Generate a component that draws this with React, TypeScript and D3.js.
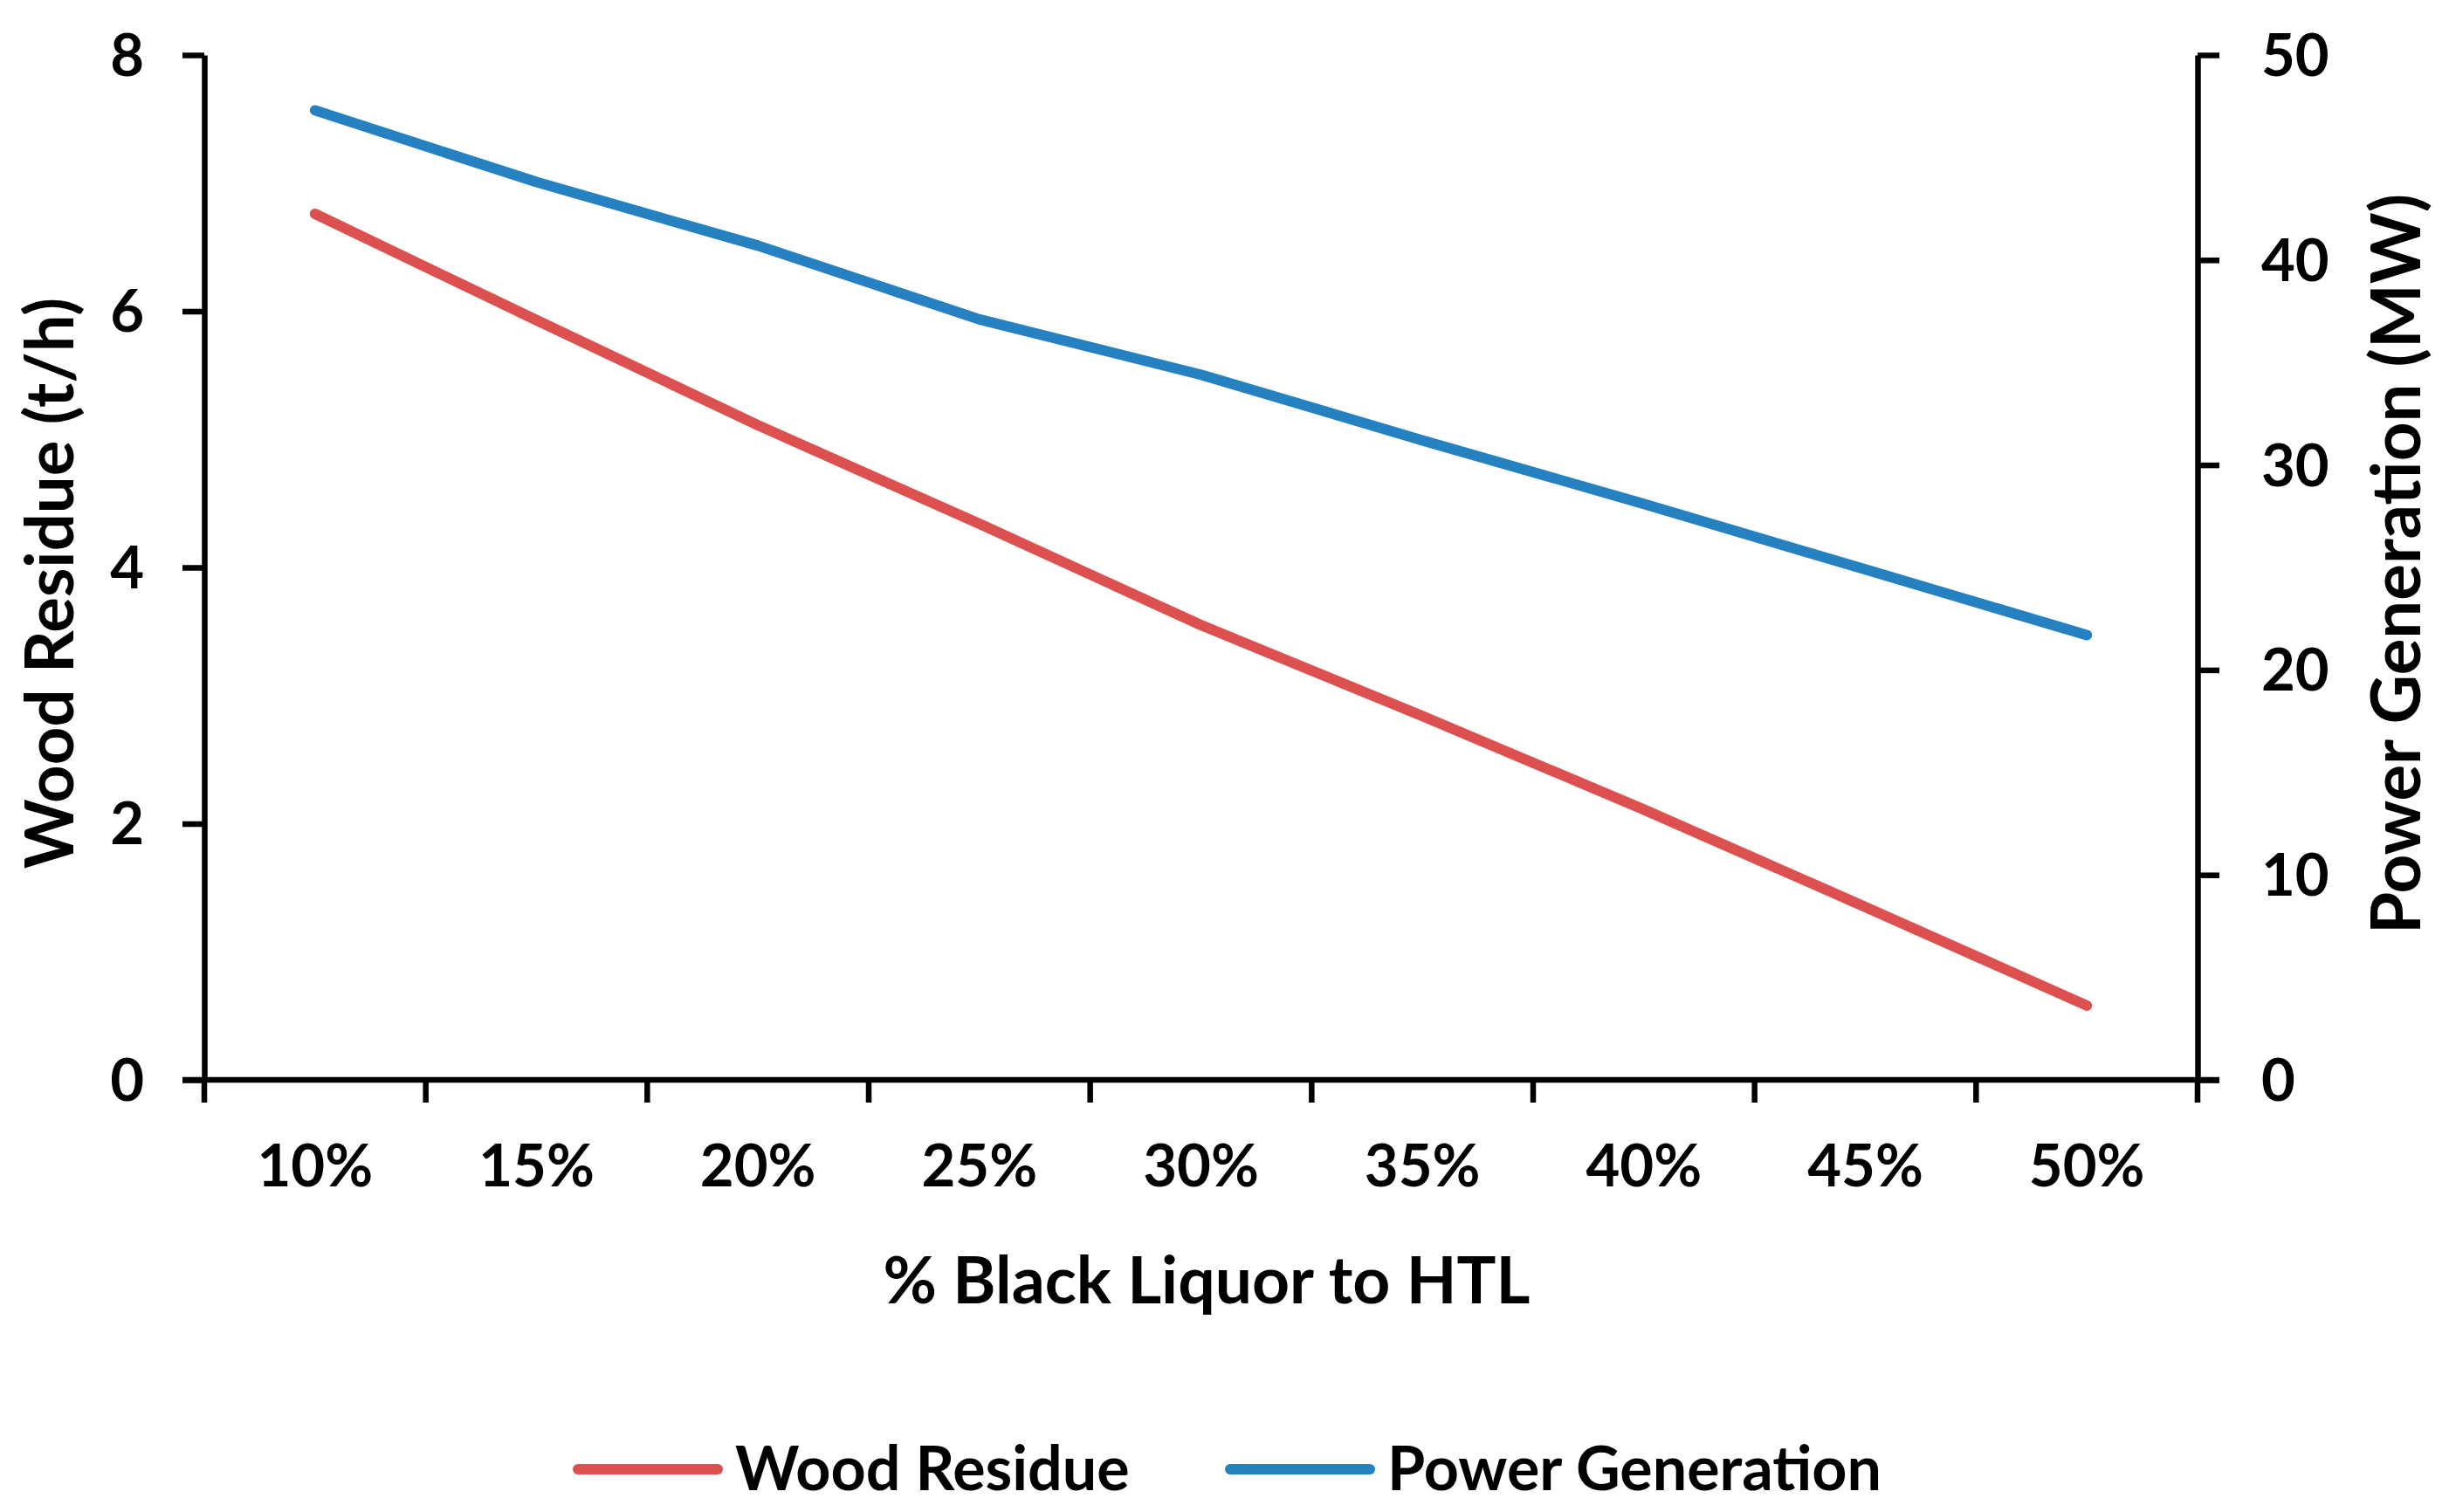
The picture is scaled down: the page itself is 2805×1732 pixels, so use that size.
import React, { useRef, useEffect } from 'react';
import * as d3 from 'd3';

const categories = ['10%', '15%', '20%', '25%', '30%', '35%', '40%', '45%', '50%'];
const woodResidue = [6.76, 5.93, 5.11, 4.34, 3.55, 2.84, 2.11, 1.35, 0.58];
const powerGeneration = [47.3, 43.8, 40.7, 37.1, 34.4, 31.2, 28.1, 24.9, 21.7];
const leftTicks = [0, 2, 4, 6, 8];
const rightTicks = [0, 10, 20, 30, 40, 50];
const seriesNames = ['Wood Residue', 'Power Generation'];
const seriesColors = ['#dd5050', '#2681c1'];

const W = 2805;
const H = 1732;
const FONT = 'Lato, "Open Sans", sans-serif';

const App: React.FC = () => {
  const svgRef = useRef<SVGSVGElement>(null);

  useEffect(() => {
    if (!svgRef.current) return;
    const svg = d3.select(svgRef.current);
    svg.selectAll('*').remove();

    const left = 234, right = 2517, top = 63, bottom = 1237;

    const x = d3.scaleBand<string>().domain(categories).range([left, right]).padding(0);
    const yL = d3.scaleLinear().domain([0, 8]).range([bottom, top]);
    const yR = d3.scaleLinear().domain([0, 50]).range([bottom, top]);

    const g = svg.append('g').attr('font-family', FONT).attr('font-weight', 700);

    // left + right value axes
    const axL = g.append('g')
      .attr('transform', `translate(${left},0)`)
      .call(d3.axisLeft(yL).tickValues(leftTicks).tickSize(25).tickSizeOuter(0).tickPadding(44));
    const axR = g.append('g')
      .attr('transform', `translate(${right},0)`)
      .call(d3.axisRight(yR).tickValues(rightTicks).tickSize(25).tickSizeOuter(0).tickPadding(48));

    [axL, axR].forEach((ax) => {
      ax.select('.domain').attr('stroke', '#000').attr('stroke-width', 6.5);
      ax.selectAll('.tick line').attr('stroke', '#000').attr('stroke-width', 6.5);
      ax.selectAll('.tick text')
        .attr('font-size', 67)
        .attr('font-family', FONT)
        .attr('font-weight', 700)
        .attr('fill', '#000')
        .attr('dy', '0.35em');
    });

    // category axis, ticks sit between categories
    g.append('line')
      .attr('x1', left - 25).attr('x2', right + 25)
      .attr('y1', bottom).attr('y2', bottom)
      .attr('stroke', '#000').attr('stroke-width', 6.5);

    const bounds = categories.map((c) => x(c)!).concat([right]);
    g.selectAll('.xtick').data(bounds).enter().append('line')
      .attr('x1', (d) => d).attr('x2', (d) => d)
      .attr('y1', bottom).attr('y2', bottom + 26)
      .attr('stroke', '#000').attr('stroke-width', 6.5);

    g.selectAll('.xlabel').data(categories).enter().append('text')
      .attr('x', (d) => x(d)! + x.bandwidth() / 2)
      .attr('y', 1359)
      .attr('text-anchor', 'middle')
      .attr('font-size', 67)
      .text((d) => d);

    // titles
    g.append('text')
      .attr('x', 1382).attr('y', 1493)
      .attr('text-anchor', 'middle')
      .attr('font-size', 75)
      .text('% Black Liquor to HTL');

    g.append('text')
      .attr('transform', `translate(84,668) rotate(-90)`)
      .attr('text-anchor', 'middle')
      .attr('font-size', 76)
      .text('Wood Residue (t/h)');

    g.append('text')
      .attr('transform', `translate(2772,646) rotate(-90)`)
      .attr('text-anchor', 'middle')
      .attr('font-size', 78)
      .text('Power Generation (MW)');

    // series
    const cx = (i: number) => x(categories[i])! + x.bandwidth() / 2;
    const lineL = d3.line<number>().x((_, i) => cx(i)).y((d) => yL(d));
    const lineR = d3.line<number>().x((_, i) => cx(i)).y((d) => yR(d));

    g.append('path').datum(woodResidue)
      .attr('d', lineL)
      .attr('fill', 'none')
      .attr('stroke', seriesColors[0])
      .attr('stroke-width', 12)
      .attr('stroke-linecap', 'round')
      .attr('stroke-linejoin', 'round');

    g.append('path').datum(powerGeneration)
      .attr('d', lineR)
      .attr('fill', 'none')
      .attr('stroke', seriesColors[1])
      .attr('stroke-width', 12)
      .attr('stroke-linecap', 'round')
      .attr('stroke-linejoin', 'round');

    // legend
    const legendX = [662, 1409];
    const legend = g.append('g');
    seriesNames.forEach((name, i) => {
      legend.append('line')
        .attr('x1', legendX[i]).attr('x2', legendX[i] + 160)
        .attr('y1', 1683).attr('y2', 1683)
        .attr('stroke', seriesColors[i])
        .attr('stroke-width', 12)
        .attr('stroke-linecap', 'round');
      legend.append('text')
        .attr('x', legendX[i] + 180)
        .attr('y', 1707)
        .attr('font-size', 70)
        .text(name);
    });
  }, []);

  return (
    <svg
      ref={svgRef}
      width={W}
      height={H}
      style={{ position: 'absolute', left: 0, top: 0, background: '#fff' }}
    />
  );
};

export default App;
